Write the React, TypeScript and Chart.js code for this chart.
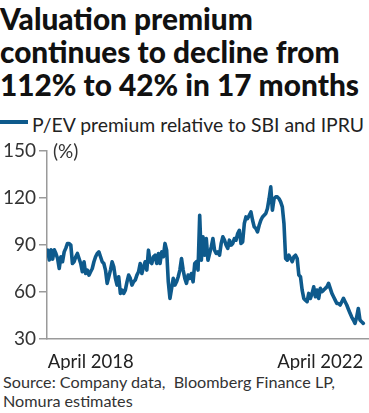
import React, { useEffect, useRef } from "react";
import { Chart, registerables } from "chart.js";

Chart.register(...registerables);

const titleLines = [
  "Valuation premium",
  "continues to decline from",
  "112% to 42% in 17 months",
];
const seriesName = "P/EV premium relative to SBI and IPRU";
const unitLabel = "(%)";
const sourceLines = ["Source: Company data,\u00a0 Bloomberg Finance LP,", "Nomura estimates"];
const xTickLabels = ["April 2018", "April 2022"];
const yTicks = [30, 60, 90, 120, 150];

// weekly P/EV premium (%), April 2018 – April 2022
const premium = [
  86.7, 80.5, 87, 81, 87, 84.6, 81.4, 75, 82.5, 79.3, 85.6, 88, 91, 91, 90, 78.2,
  79.3, 82.5, 84.6, 81.4, 78.2, 72.9, 79.3, 71.8, 74, 70.8, 72.9, 75, 79.3, 82.5,
  84.6, 85.6, 82.5, 79.3, 78.2, 74, 65.5, 69.7, 74, 79.3, 76.1, 68.7, 64.4, 69.7,
  59.1, 61.2, 59.1, 61.2, 66.5, 70.8, 68.7, 64.4, 66.5, 67.6, 70.8, 72.9, 78.2,
  71.8, 76.1, 79.3, 74, 86.7, 79.3, 78.2, 82.5, 83.5, 78.2, 84.6, 78.2, 85.6, 82.5,
  91, 86.7, 66.5, 55.9, 62.3, 68.7, 64.4, 66.5, 69.7, 74, 81.4, 74, 68.7, 65.5,
  70.8, 68.7, 71.8, 66.5, 78.2, 79.3, 74, 109, 80.3, 95.2, 83.5, 94.1, 80.3, 84.6,
  88.8, 94.1, 86.7, 84.6, 85.6, 83.5, 91, 95.2, 93.1, 89.9, 87.8, 93.1, 89.9, 91,
  94.1, 93.1, 97.3, 99.4, 91, 92, 103.7, 107.9, 106.9, 109, 111.1, 105.8, 101.6,
  100.5, 98.4, 102.6, 105.8, 107.9, 109, 110.1, 113.3, 119.6, 127.1, 112.2, 119.6,
  120.7, 120.7, 119.6, 117.5, 114.3, 103.7, 81.4, 80.3, 83.5, 81.4, 79.3, 82.5,
  83.5, 81.4, 70.8, 69.7, 61.2, 55.9, 54.8, 53.8, 59.1, 55.9, 59.1, 63.3, 57, 61.2,
  55.9, 62.3, 60.2, 61.2, 62.3, 63.3, 65.5, 62.3, 59.1, 57, 54.8, 52.7, 52.7, 51.7,
  53.8, 55.9, 53.8, 51.7, 49, 46.4, 44, 42.1, 40, 44, 49.5, 42.1, 41, 40,
];

const LINE_COLOR = "#0e5a8c";
const AXIS_COLOR = "#9a9a9a";
const FONT = "Lato, 'Noto Sans', sans-serif";

export default function App() {
  const canvasRef = useRef<HTMLCanvasElement | null>(null);

  useEffect(() => {
    document.body.style.margin = "0";
    const canvas = canvasRef.current;
    if (!canvas) return;
    const last = premium.length - 1;
    const chart = new Chart(canvas, {
      type: "line",
      data: {
        datasets: [
          {
            label: seriesName,
            data: premium.map((v, i) => ({ x: i, y: v })),
            borderColor: LINE_COLOR,
            borderWidth: 3.6,
            borderJoinStyle: "round",
            borderCapStyle: "round",
            pointRadius: 0,
            tension: 0,
            fill: false,
          },
        ],
      },
      options: {
        animation: false,
        responsive: false,
        maintainAspectRatio: false,
        layout: { padding: { top: 16, right: 1, left: 0, bottom: 0 } },
        plugins: {
          legend: { display: false },
          tooltip: { enabled: false },
        },
        scales: {
          x: {
            type: "linear",
            min: -0.4,
            max: last + 2.85,
            afterFit: (scale: any) => {
              scale.height = 31;
            },
            afterBuildTicks: (scale: any) => {
              scale.ticks = [{ value: 0 }, { value: last }];
            },
            grid: { display: false },
            border: { display: true, color: AXIS_COLOR, width: 1.5 },
            ticks: {
              autoSkip: false,
              maxRotation: 0,
              align: "inner",
              padding: 4,
              color: "#222",
              font: { family: "Lato", size: 18.5 },
              callback: (value: any) => (value === 0 ? xTickLabels[0] : xTickLabels[1]),
            },
          },
          y: {
            min: 30,
            max: 150,
            afterFit: (scale: any) => {
              scale.width = 47;
            },
            afterBuildTicks: (scale: any) => {
              scale.ticks = yTicks.map((v) => ({ value: v }));
            },
            grid: {
              display: true,
              drawOnChartArea: false,
              drawTicks: true,
              tickLength: 8,
              color: AXIS_COLOR,
              lineWidth: 1.5,
            },
            border: { display: true, color: AXIS_COLOR, width: 1.5 },
            ticks: {
              padding: 3,
              color: "#333",
              font: { family: "Lato", size: 19 },
            },
          },
        },
      },
    } as any);
    return () => chart.destroy();
  }, []);

  return (
    <div
      style={{
        position: "absolute",
        left: 0,
        top: 0,
        width: 369,
        height: 413,
        background: "#fff",
        fontFamily: FONT,
        overflow: "hidden",
      }}
    >
      <div
        style={{
          position: "absolute",
          left: 0,
          top: 1.8,
          fontSize: 29.8,
          lineHeight: "33.3px",
          fontWeight: 900,
          color: "#111",
          whiteSpace: "nowrap",
        }}
      >
        {titleLines.map((l, i) => (
          <div key={i}>{l}</div>
        ))}
      </div>
      <div
        style={{
          position: "absolute",
          left: 0,
          top: 120,
          width: 28,
          height: 3.5,
          background: LINE_COLOR,
        }}
      />
      <div
        style={{
          position: "absolute",
          left: 32,
          top: 114.5,
          fontSize: 19.4,
          lineHeight: "19px",
          color: "#222",
          whiteSpace: "nowrap",
        }}
      >
        {seriesName}
      </div>
      <canvas
        ref={canvasRef}
        width={369}
        height={235}
        style={{ position: "absolute", left: 0, top: 135, width: 369, height: 235 }}
      />
      <div
        style={{
          position: "absolute",
          left: 53,
          top: 140.8,
          fontSize: 19,
          lineHeight: "19px",
          color: "#333",
        }}
      >
        {unitLabel}
      </div>
      <div
        style={{
          position: "absolute",
          left: 3,
          top: 373,
          fontSize: 16.2,
          lineHeight: "18.7px",
          color: "#333",
          whiteSpace: "nowrap",
        }}
      >
        {sourceLines.map((l, i) => (
          <div key={i}>{l}</div>
        ))}
      </div>
    </div>
  );
}
